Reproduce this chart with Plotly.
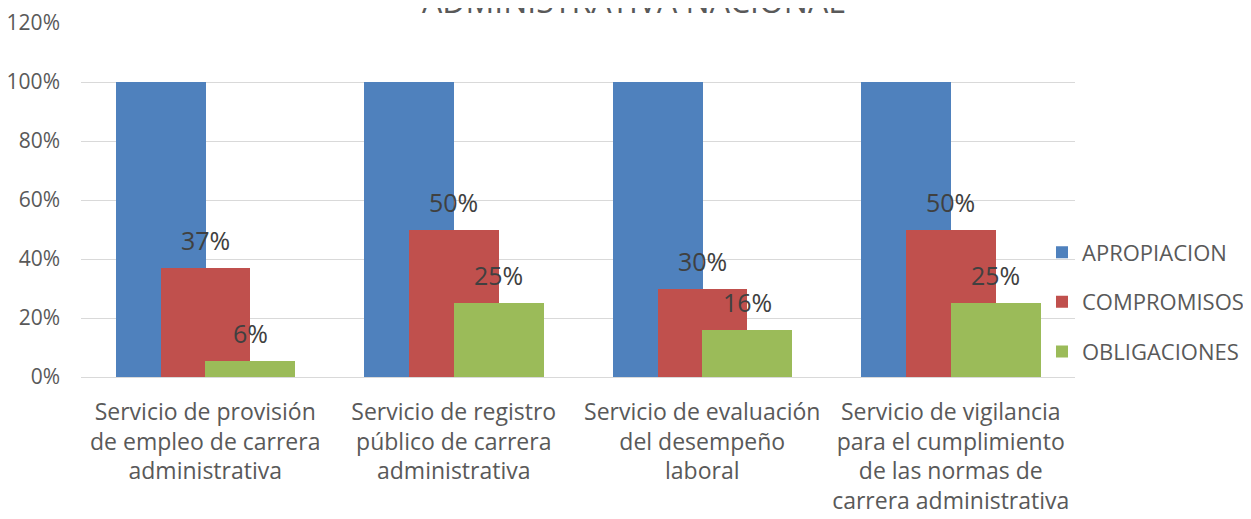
import plotly.graph_objects as go

categories = [
    "Servicio de provisión<br>de empleo de carrera<br>administrativa",
    "Servicio de registro<br>público de carrera<br>administrativa",
    "Servicio de evaluación<br>del desempeño<br>laboral",
    "Servicio de vigilancia<br>para el cumplimiento<br>de las normas de<br>carrera administrativa",
]
apropiacion = [1.00, 1.00, 1.00, 1.00]
compromisos = [0.37, 0.50, 0.30, 0.50]
obligaciones = [0.055, 0.25, 0.16, 0.25]
compromisos_labels = ["37%", "50%", "30%", "50%"]
obligaciones_labels = ["6%", "25%", "16%", "25%"]
y_ticks = [0, 0.2, 0.4, 0.6, 0.8, 1.0, 1.2]
y_ticklabels = ["0%", "20%", "40%", "60%", "80%", "100%", "120%"]

font_family = "Open Sans, Liberation Sans, sans-serif"
label_color = "#404040"
tick_color = "#595959"

# layout geometry
W, H = 1251, 519
ML, MR, MT, MB = 73, 184, 15, 150
plot_w = W - ML - MR
cat_px = plot_w / len(categories)
bar_w = 0.362
offsets = {"a": -0.36, "b": -0.18, "c": 0.0}

fig = go.Figure()
fig.add_trace(go.Bar(
    name="APROPIACION", x=categories, y=apropiacion,
    marker=dict(color="#4F81BD", line=dict(width=0)),
    width=bar_w, offset=offsets["a"], legendgroup="a",
))
fig.add_trace(go.Bar(
    name="COMPROMISOS", x=categories, y=compromisos,
    marker=dict(color="#C0504D", line=dict(width=0)),
    width=bar_w, offset=offsets["b"], legendgroup="b",
))
fig.add_trace(go.Bar(
    name="OBLIGACIONES", x=categories, y=obligaciones,
    marker=dict(color="#9BBB59", line=dict(width=0)),
    width=bar_w, offset=offsets["c"], legendgroup="c",
))

for vals, labels, key in [(compromisos, compromisos_labels, "b"),
                          (obligaciones, obligaciones_labels, "c")]:
    xs = (offsets[key] + bar_w / 2) * cat_px
    for cat, v, lab in zip(categories, vals, labels):
        fig.add_annotation(
            x=cat, y=v, xref="x", yref="y", text=lab, showarrow=False,
            xanchor="center", yanchor="bottom", xshift=xs, yshift=9,
            font=dict(size=25, color=label_color, family=font_family),
        )

fig.add_annotation(
    text="ADMINISTRATIVA NACIONAL", xref="paper", yref="paper",
    x=0.556, y=1.0, xanchor="center", yanchor="bottom", yshift=-1,
    showarrow=False,
    font=dict(size=32, color="#595959", family=font_family),
)

fig.update_layout(
    barmode="overlay",
    width=W, height=H,
    margin=dict(l=ML, r=MR, t=MT, b=MB, autoexpand=False),
    paper_bgcolor="white", plot_bgcolor="white",
    font=dict(family=font_family, color=tick_color),
    bargap=0,
    showlegend=True,
    legend=dict(
        x=0.9668, xanchor="left", y=0.212, yanchor="middle",
        font=dict(size=22, color=tick_color, family=font_family),
        tracegroupgap=18, itemwidth=30,
        bgcolor="rgba(0,0,0,0)",
    ),
    xaxis=dict(
        tickfont=dict(size=23, color=tick_color, family=font_family),
        showgrid=False, showline=True, linecolor="#d9d9d9", linewidth=1,
        ticks="", ticklabelstandoff=14, automargin=False,
    ),
    yaxis=dict(
        range=[0, 1.2], tickvals=y_ticks, ticktext=y_ticklabels,
        tickfont=dict(size=21, color=tick_color, family=font_family),
        showgrid=True, gridcolor="#d9d9d9", gridwidth=1,
        zeroline=False, ticks="", ticklabelstandoff=20, automargin=False,
    ),
)

fig.write_html("out.html")
